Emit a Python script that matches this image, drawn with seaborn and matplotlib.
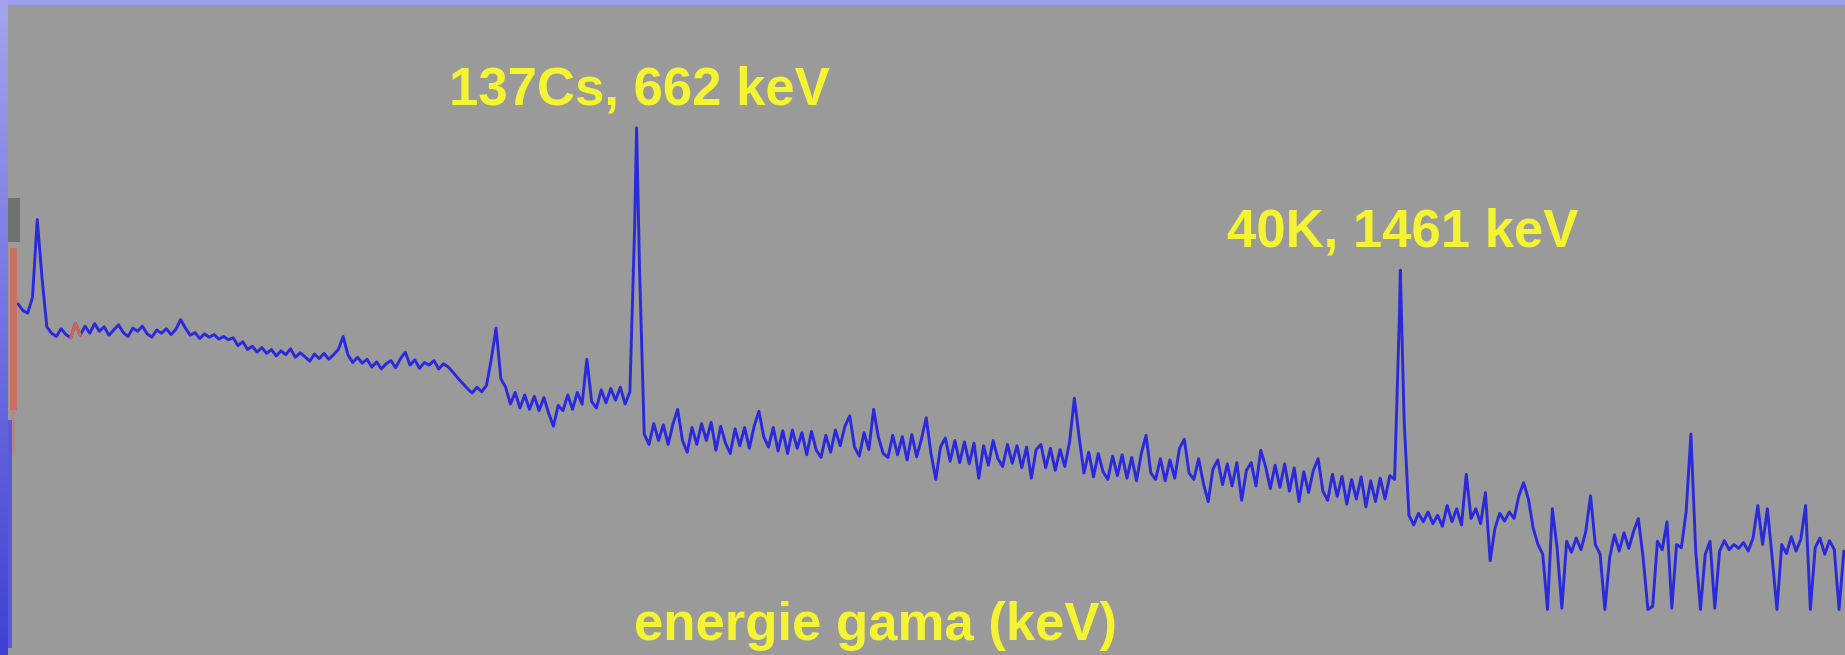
import numpy as np
import pandas as pd
import matplotlib
matplotlib.use("Agg")
import matplotlib.pyplot as plt
from matplotlib.colors import LinearSegmentedColormap
from matplotlib.patches import Rectangle
import seaborn as sns

# Background gamma spectrum, 5 keV channels (relative counts)
continuum_kev = np.arange(15, 1930, 5)
continuum_counts = [
    # 15 - 95 keV
    54.0, 53.0, 52.6, 55.0, 67.0, 58.0, 50.5, 49.5, 49.0, 50.2, 49.3, 48.8, 51.0, 49.2, 50.6, 49.5, 51.0,
    # 100 - 195
    49.8, 50.5, 49.2, 50.0, 50.8, 49.6, 49.0, 50.3, 49.8, 50.6, 49.4, 48.9, 50.0, 49.5, 50.2, 49.3, 50.1, 51.6, 50.3, 49.2,
    # 200 - 295
    49.6, 48.7, 49.4, 48.9, 49.3, 48.6, 49.0, 48.5, 48.8, 47.6, 48.2, 47.0, 47.5, 46.6, 47.3, 46.4, 47.0, 46.0, 46.8, 46.2,
    # 300 - 395
    47.1, 45.8, 46.5, 45.9, 45.2, 46.3, 45.6, 46.4, 45.5, 46.2, 47.0, 49.0, 46.2, 45.0, 45.8, 44.9, 45.5, 44.3, 45.1, 44.0,
    # 400 - 495
    44.8, 45.3, 44.2, 45.6, 46.6, 44.6, 45.4, 44.1, 45.0, 44.6, 45.3, 44.0, 44.8, 44.3, 43.5, 42.6, 41.8, 41.0, 40.3, 41.2,
    # 500 - 595
    40.5, 41.5, 45.5, 50.3, 42.5, 41.2, 38.6, 40.4, 38.0, 40.0, 37.8, 39.8, 37.6, 39.6, 37.2, 35.2, 38.4, 37.6, 40.0, 37.8,
    # 600 - 695
    40.4, 38.6, 45.5, 39.0, 38.0, 40.8, 38.8, 41.0, 39.2, 41.2, 38.6, 40.5, 66.0, 60.0, 34.0, 32.4, 35.6, 33.0, 35.4, 32.4,
    # 700 - 795
    35.5, 37.8, 33.0, 31.2, 35.0, 32.4, 35.6, 33.0, 35.8, 31.5, 35.2, 32.6, 31.0, 34.8, 32.2, 35.0, 31.8, 35.2, 37.5, 33.6,
    # 800 - 895
    32.0, 35.0, 31.4, 34.5, 31.0, 34.6, 31.8, 34.2, 30.8, 34.4, 31.5, 30.4, 33.8, 31.2, 34.6, 32.2, 35.2, 36.8, 32.0, 30.6,
    # 900 - 995
    34.2, 31.6, 37.8, 33.5, 31.0, 30.4, 33.8, 30.8, 33.6, 30.0, 33.9, 30.5, 33.2, 36.5, 31.0, 27.0, 32.0, 33.4, 29.8, 33.0,
    # 1000 - 1095
    29.6, 32.8, 29.4, 32.6, 27.2, 32.2, 29.2, 33.0, 30.2, 29.0, 32.4, 29.5, 32.2, 28.8, 32.0, 27.2, 31.6, 32.4, 28.8, 31.8,
    # 1100 - 1195
    28.4, 31.6, 29.0, 32.8, 39.5, 33.5, 28.0, 31.2, 27.4, 31.0, 28.2, 27.0, 30.6, 27.6, 30.8, 27.2, 30.4, 26.8, 31.0, 33.8,
    # 1200 - 1295
    28.0, 27.0, 30.2, 26.8, 30.0, 27.2, 31.8, 33.2, 28.0, 27.0, 30.2, 26.4, 23.6, 28.6, 30.0, 26.2, 29.4, 26.0, 29.6, 23.8,
    # 1300 - 1395
    28.4, 29.6, 26.0, 31.5, 29.0, 25.6, 29.2, 25.8, 29.4, 25.2, 28.8, 23.6, 28.2, 25.0, 28.4, 30.2, 25.2, 23.8, 27.8, 24.4,
    # 1400 - 1495
    27.5, 23.2, 27.0, 24.0, 27.4, 22.8, 26.8, 23.6, 27.2, 24.0, 27.6, 27.0, 52.0, 36.0, 21.5, 20.0, 21.8, 20.5, 22.0, 20.2,
    # 1500 - 1595
    21.5, 19.8, 23.0, 20.5, 22.5, 20.0, 27.8, 21.0, 22.5, 20.2, 25.0, 14.5, 19.5, 21.8, 20.6, 22.0, 21.0, 24.5, 26.5, 24.0,
    # 1600 - 1695
    19.5, 17.0, 15.5, 7.0, 22.5, 16.5, 7.2, 17.5, 15.8, 18.0, 16.2, 19.0, 24.5, 17.0, 15.5, 7.0, 15.0, 18.5, 16.0, 18.8,
    # 1700 - 1795
    16.4, 19.0, 21.0, 15.0, 7.0, 7.5, 17.5, 16.2, 20.5, 7.2, 17.0, 16.5, 22.0, 34.0, 16.0, 7.0, 15.5, 17.5, 7.2, 16.0,
    # 1800 - 1895
    17.6, 16.2, 17.0, 16.4, 17.3, 16.0, 18.0, 23.0, 17.0, 22.5, 15.0, 7.0, 17.0, 15.6, 18.2, 16.0, 17.8, 23.0, 7.0, 16.5,
    # 1900 - 1925
    18.0, 15.5, 17.6, 16.2, 7.0, 16.0,
]

# Labelled photopeaks
peak_names = ["137Cs", "40K"]
peak_kev = [662, 1461]
peak_counts = [81.1, 59.2]

axis_label = "energie gama (keV)"

spectrum = (
    pd.concat([
        pd.DataFrame({"kev": continuum_kev, "counts": continuum_counts}),
        pd.DataFrame({"kev": peak_kev, "counts": peak_counts}),
    ])
    .sort_values("kev")
    .reset_index(drop=True)
)

sns.set_theme(style="white")
plt.rcParams["font.family"] = ["Liberation Sans", "DejaVu Sans"]

W, H = 1845, 655
fig = plt.figure(figsize=(W / 100, H / 100), dpi=100)
fig.patch.set_facecolor("#9e9eec")

# gradient frame on the left edge
edge = fig.add_axes([0, 0, 8 / W, 1])
edge.imshow(np.linspace(0, 1, 256)[:, None], aspect="auto",
            cmap=LinearSegmentedColormap.from_list("edge", ["#a4a4ef", "#4040d4"]),
            extent=[0, 1, 0, 1], origin="upper")
edge.set_axis_off()

ax = fig.add_axes([8 / W, 0, (W - 8) / W, (H - 5) / H])
ax.set_facecolor("#9a9a9a")

sns.lineplot(data=spectrum, x="kev", y="counts", ax=ax, color="#2a2adc",
             linewidth=2.1, sort=False, estimator=None)
cursor = spectrum[(spectrum["kev"] >= 70) & (spectrum["kev"] <= 80)]
sns.lineplot(data=cursor, x="kev", y="counts", ax=ax, color="#d2645c",
             linewidth=2.2, sort=False, estimator=None)

ax.set_xlim(4.4, 1926.2)
ax.set_ylim(0, 100)
ax.set_xticks([])
ax.set_yticks([])
ax.set_xlabel("")
ax.set_ylabel("")
for s in ax.spines.values():
    s.set_visible(False)


def px_rect(x0, y0, x1, y1, color, alpha=1.0):
    fig.patches.append(Rectangle((x0 / W, 1 - y1 / H), (x1 - x0) / W, (y1 - y0) / H,
                                 transform=fig.transFigure, color=color,
                                 alpha=alpha, lw=0, zorder=5))


# window-edge markers at the left border
px_rect(8, 198, 20, 242, "#6f736f")
px_rect(10, 248, 17, 410, "#cc6e62")
px_rect(11, 410, 15, 455, "#c0807a", alpha=0.6)
px_rect(8, 420, 12, 648, "#5a5ad8")

yellow = "#f4f432"
for name, kev, cnt in zip(peak_names, peak_kev, peak_counts):
    ax.annotate(f"{name}, {kev} keV", xy=(kev, cnt), xytext=(2, 17),
                textcoords="offset points", ha="center", va="baseline",
                fontsize=38, fontweight="bold", color=yellow)

ax.text(0.472, 0.023, axis_label, transform=ax.transAxes, ha="center",
        va="baseline", fontsize=38, fontweight="bold", color=yellow)

fig.savefig("out.png", dpi=100)
